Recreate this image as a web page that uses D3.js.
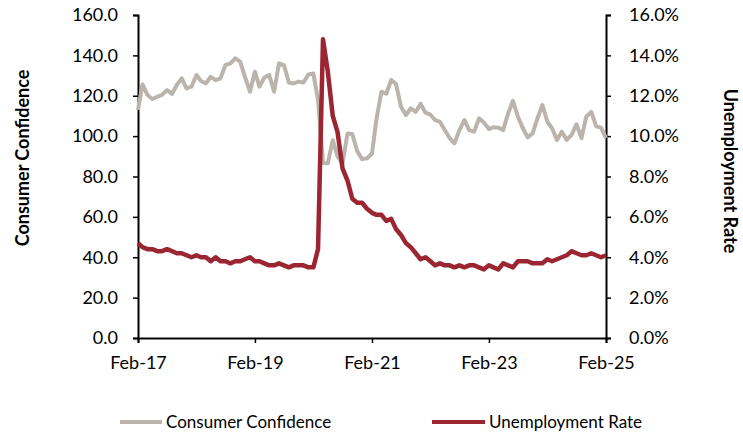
<!DOCTYPE html>
<html>
<head>
<meta charset="utf-8">
<script src="https://cdn.jsdelivr.net/npm/d3@7"></script>
<style>
  body { margin: 0; background: #fff; }
  text { font-family: Lato, "Open Sans", sans-serif; fill: #000; }
</style>
</head>
<body>
<svg id="chart" width="743" height="436"></svg>
<script>
// monthly data, Feb-17 .. Feb-25
let startMonth = new Date(2017, 1, 1)

let confidence = [
  113, 125.6, 120.4, 118.4, 119.5, 120.4, 122.8, 120.9, 125.3, 128.6, 123.7, 124.5,
  130.3, 127.3, 126.1, 129.4, 127.7, 128.6, 135.2, 136, 138.5, 136.9, 129.4, 122,
  131.9, 124.5, 129, 130.3, 122, 136, 135.2, 126.6, 126.1, 127, 126.6, 130.6,
  131, 118, 86.7, 86.5, 98, 90, 86.5, 101.3, 101, 92.5, 88.6, 89,
  91.4, 108.5, 122, 121, 127.8, 125.8, 114.6, 110.4, 113.8, 112, 116, 111.6,
  110.6, 108, 107.1, 103, 99, 96.4, 103, 108, 103, 102.2, 108.8, 106.7,
  103.5, 104.4, 104.2, 103, 111.3, 117.5, 109.6, 103.9, 99.4, 101.4, 108.8, 115.4,
  107.1, 103.9, 98.1, 102.2, 98.1, 100.6, 105.9, 99, 109.6, 112, 104.9, 104.2,
  99
]

let unemployment = [
  4.7, 4.5, 4.4, 4.4, 4.3, 4.3, 4.4, 4.3, 4.2, 4.2, 4.1, 4.0,
  4.1, 4.0, 4.0, 3.8, 4.0, 3.8, 3.8, 3.7, 3.8, 3.8, 3.9, 4.0,
  3.8, 3.8, 3.7, 3.6, 3.6, 3.7, 3.6, 3.5, 3.6, 3.6, 3.6, 3.5,
  3.5, 4.4, 14.8, 13.2, 11.0, 10.2, 8.4, 7.8, 6.9, 6.7, 6.7, 6.4,
  6.2, 6.1, 6.1, 5.8, 5.9, 5.4, 5.1, 4.7, 4.5, 4.2, 3.9, 4.0,
  3.8, 3.6, 3.7, 3.6, 3.6, 3.5, 3.6, 3.5, 3.6, 3.6, 3.5, 3.4,
  3.6, 3.5, 3.4, 3.7, 3.6, 3.5, 3.8, 3.8, 3.8, 3.7, 3.7, 3.7,
  3.9, 3.8, 3.9, 4.0, 4.1, 4.3, 4.2, 4.1, 4.1, 4.2, 4.1, 4.0,
  4.1
]

let leftTicks = [0, 20, 40, 60, 80, 100, 120, 140, 160]
let rightTicks = [0, 2, 4, 6, 8, 10, 12, 14, 16]
let xTickLabels = ['Feb-17', 'Feb-19', 'Feb-21', 'Feb-23', 'Feb-25']

let dates = confidence.map((d, i) => d3.timeMonth.offset(startMonth, i))
let xTickDates = xTickLabels.map((d, i) => d3.timeMonth.offset(startMonth, i * 24))

let grey = '#bab4ad'
let red = '#9b2530'

let svg = d3.select('#chart')
let plotLeft = 138, plotRight = 606, plotTop = 15, plotBottom = 338

let x = d3.scaleTime().domain([dates[0], dates[dates.length - 1]]).range([plotLeft, plotRight])
let yL = d3.scaleLinear().domain([0, 160]).range([plotBottom, plotTop])
let yR = d3.scaleLinear().domain([0, 16]).range([plotBottom, plotTop])

// axes
let leftAxis = d3.axisLeft(yL).tickValues(leftTicks).tickFormat(d3.format('.1f')).tickSize(5).tickPadding(15)
let rightAxis = d3.axisRight(yR).tickValues(rightTicks).tickFormat(d => d.toFixed(1) + '%').tickSize(5).tickPadding(18)
let bottomAxis = d3.axisBottom(x).tickValues(xTickDates).tickFormat((d, i) => xTickLabels[i]).tickSize(5).tickPadding(13)

function styleAxis(g) {
  g.select('.domain').attr('stroke', '#000').attr('stroke-width', 2)
  g.selectAll('.tick line').attr('stroke', '#000').attr('stroke-width', 1.5)
  g.selectAll('.tick text').style('font-size', '18px').style('font-family', 'Lato, sans-serif')
}

svg.append('g').attr('transform', `translate(0,${plotBottom})`).call(bottomAxis).call(styleAxis)
svg.append('g').attr('transform', `translate(${plotLeft},0)`).call(leftAxis).call(styleAxis)
svg.append('g').attr('transform', `translate(${plotRight},0)`).call(rightAxis).call(styleAxis)

// lines
let ccLine = d3.line().x((d, i) => x(dates[i])).y(d => yL(d))
let urLine = d3.line().x((d, i) => x(dates[i])).y(d => yR(d))

svg.append('path').datum(confidence)
  .attr('d', ccLine).attr('fill', 'none')
  .attr('stroke', grey).attr('stroke-width', 4).attr('stroke-linejoin', 'round')

svg.append('path').datum(unemployment)
  .attr('d', urLine).attr('fill', 'none')
  .attr('stroke', red).attr('stroke-width', 4.5).attr('stroke-linejoin', 'round')

// axis titles
svg.append('text')
  .attr('transform', 'translate(29,158) rotate(-90)')
  .attr('text-anchor', 'middle')
  .style('font-size', '18px').style('font-weight', 'bold')
  .text('Consumer Confidence')

svg.append('text')
  .attr('transform', 'translate(724,171) rotate(90)')
  .attr('text-anchor', 'middle')
  .style('font-size', '18px').style('font-weight', 'bold')
  .text('Unemployment Rate')

// legend
let legend = [
  {name: 'Consumer Confidence', color: grey, x1: 120, x2: 162},
  {name: 'Unemployment Rate', color: red, x1: 432, x2: 485}
]
let lg = svg.append('g').selectAll('g').data(legend).enter().append('g')
lg.append('line')
  .attr('x1', d => d.x1).attr('x2', d => d.x2)
  .attr('y1', 422).attr('y2', 422)
  .attr('stroke', d => d.color).attr('stroke-width', 4)
lg.append('text')
  .attr('x', d => d.x2 + 4).attr('y', 428)
  .style('font-size', '17px')
  .text(d => d.name)
</script>
</body>
</html>
